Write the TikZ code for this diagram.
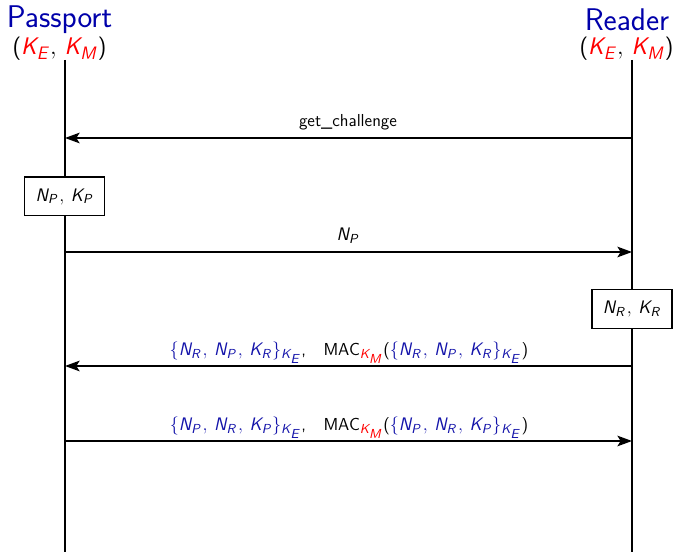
\documentclass[tikz,border=0pt]{standalone}
\usepackage{fix-cm}
\usepackage{amsmath}
\renewcommand{\familydefault}{\sfdefault}
\usetikzlibrary{arrows.meta}
\DeclareMathAlphabet{\sfi}{OT1}{cmss}{m}{sl}
\DeclareMathSizes{13}{13.6}{9.8}{9.8}
\DeclareMathSizes{17.5}{18}{13.5}{13.5}
\definecolor{dblue}{RGB}{0,0,170}
\definecolor{dblue2}{RGB}{20,20,170}
\newcommand{\kk}[1]{\textcolor{red}{#1}}
\newcommand{\vr}[2]{\sfi{#1}_{\sfi{#2}}}
\newcommand{\KE}{\vr{K}{E}}
\newcommand{\KM}{\vr{K}{M}}
\newcommand{\cm}{\mkern1mu,\mkern3.5mu}
\newcommand{\setb}[3]{\textcolor{dblue2}{$\{\vr{N}{#1}\cm\vr{N}{#2}\cm\vr{K}{#3}\}_{\KE}$}}
\tikzset{
 life/.style={draw=black,line width=0.9pt},
 msg/.style={draw=black,line width=0.9pt,-{Stealth[length=11pt,width=8pt,inset=2.5pt]}},
 lab/.style={inner sep=0pt,font=\fontsize{13}{15}\selectfont},
 head/.style={inner sep=0pt,font=\fontsize{23.5}{26}\selectfont,text=dblue},
 sub/.style={inner sep=0pt,font=\fontsize{17.5}{22}\selectfont},
 bx/.style={draw=black,fill=white,line width=1pt,minimum width=60pt,minimum height=29pt,inner sep=0pt,font=\fontsize{13}{15}\selectfont},
}
\begin{document}
\begin{tikzpicture}[x=0.75pt,y=-0.75pt]
\useasboundingbox (0,0) rectangle (674,552);
\node[head] (pname) at (59.5,20) {Passport};
\node[head] (rname) at (627,20) {Reader};
\node[sub] (pk) at (59.5,49) {($\kk{\KE},\,\kk{\KM}$)};
\node[sub] (rk) at (626.5,49) {($\kk{\KE},\,\kk{\KM}$)};
\coordinate (pt) at (65,60); \coordinate (pb) at (65,552);
\coordinate (rt) at (632,60); \coordinate (rb) at (632,552);
\draw[life] (pt) -- (pb);
\draw[life] (rt) -- (rb);
\coordinate (r1) at (632,138); \coordinate (p1) at (65,138);
\coordinate (p2) at (65,252); \coordinate (r2) at (632,252);
\coordinate (r3) at (632,366); \coordinate (p3) at (65,366);
\coordinate (p4) at (65,441); \coordinate (r4) at (632,441);
\draw[msg] (r1) -- (p1);
\draw[msg] (p2) -- (r2);
\draw[msg] (r3) -- (p3);
\draw[msg] (p4) -- (r4);
\node[bx] (bp) at (64.5,196.5) {$\vr{N}{P}\cm\vr{K}{P}$};
\node[bx] (br) at (632,309) {$\vr{N}{R}\cm\vr{K}{R}$};
\node[lab] (l1) at (348,122) {get\_challenge};
\node[lab] (l2) at (348,236) {$\vr{N}{P}$};
\node[lab] (l3) at (349,352.5) {\setb{R}{P}{R},\quad MAC$_{\kk{\KM}}$(\setb{R}{P}{R})};
\node[lab] (l4) at (349,427.5) {\setb{P}{R}{P},\quad MAC$_{\kk{\KM}}$(\setb{P}{R}{P})};
\end{tikzpicture}
\end{document}
